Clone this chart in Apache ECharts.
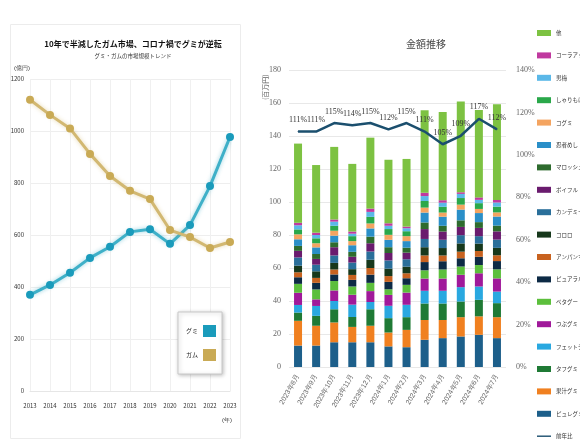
<!DOCTYPE html>
<html>
<head>
<meta charset="utf-8">
<script src="https://cdn.jsdelivr.net/npm/echarts@6/dist/echarts.min.js"></script>
<style>
  html, body { margin: 0; padding: 0; background: #fff; overflow: hidden; }
  #main { width: 580px; height: 441px; }
</style>
</head>
<body>
<div id="main"></div>
<script>
// 左: グミ・ガム市場規模 (億円)
const years = ['2013', '2014', '2015', '2016', '2017', '2018', '2019', '2020', '2021', '2022', '2023'];
const gummy = [370, 408, 455, 512, 555, 612, 622, 566, 638, 788, 977];
const gum = [1120, 1062, 1010, 912, 827, 770, 738, 619, 592, 550, 573];

// 右: 金額推移 (百万円)
const months = ['2023年8月', '2023年9月', '2023年10月', '2023年11月', '2023年12月', '2024年1月',
  '2024年2月', '2024年3月', '2024年4月', '2024年5月', '2024年6月', '2024年7月'];
const puree = [13, 13, 15, 15, 15, 12.5, 12, 16.5, 17.5, 18.5, 19.5, 17.5];
const kajuu = [15, 12, 12, 9.3, 10, 8.4, 10.5, 12, 11, 11.7, 11.2, 12.7];
const tough = [5, 6, 8, 6, 10, 8.7, 7.7, 10, 10, 9.5, 10, 8.5];
const fettuccine = [4.6, 6, 5, 7.5, 4.4, 7.5, 7.5, 7.7, 7.7, 8.7, 8.1, 7];
const tsubu = [7.4, 4, 6.4, 6, 6.6, 6.6, 7.4, 7.4, 7.4, 7.5, 8, 8];
const petagu = [5.4, 6, 5.7, 5, 5, 3.4, 4.7, 5, 5.5, 5, 5, 5.5];
const pureral = [4, 4, 4, 4, 5, 4.5, 4, 5, 5, 5, 5, 5];
const anpanman = [3, 3, 3, 3, 4, 3.5, 3, 4, 3.5, 4, 3.5, 3.5];
const kororo = [4, 4, 4, 3.5, 5, 4.5, 4, 5, 4.5, 5, 4.5, 4.5];
const candemina = [5, 4, 4.5, 4, 5, 5, 4.5, 5, 5, 5, 4.5, 5];
const poifull = [4, 3.5, 5, 3.5, 5, 4.5, 4, 6, 5, 5, 5, 5];
const marosh = [3, 3, 3, 3, 4, 3.5, 3, 4, 3.5, 4, 3.5, 3.5];
const ninja = [4, 4, 4, 4, 5, 4.5, 4, 6, 5.5, 6.5, 5.5, 5.5];
const kogumi = [3, 2.5, 3, 2.5, 3, 3, 3, 3, 2.5, 3, 2.5, 2.5];
const sharimoni = [3, 3, 3, 3, 4, 3.5, 3, 4, 3.5, 4, 3.5, 3.5];
const otokoume = [2.5, 2, 2.5, 1.5, 3, 2, 1.8, 3, 2.5, 2.5, 2, 2.5];
const colaup = [1.5, 1.4, 1.3, 1.3, 2, 1.5, 1, 2, 1.5, 1, 1.5, 1.5];
const others = [48, 41, 44, 41, 43, 38.5, 41, 50, 53.5, 55, 53, 58];
const yoy = [111, 111, 115, 114, 115, 112, 115, 111, 105, 109, 117, 112];

const stackDefs = [
  ['ピュレグミ', puree, '#1d5f8a'],
  ['果汁グミ', kajuu, '#f08020'],
  ['タフグミ', tough, '#1f7a35'],
  ['フェットチーネ', fettuccine, '#29a8e0'],
  ['つぶグミ', tsubu, '#a0199a'],
  ['ペタグー', petagu, '#5cbf3c'],
  ['ピュアラル', pureral, '#0d2a45'],
  ['アンパンマングミ', anpanman, '#c8621f'],
  ['コロロ', kororo, '#17381c'],
  ['カンデミーナ', candemina, '#2a6f9a'],
  ['ポイフル', poifull, '#6a1b6e'],
  ['マロッシュ', marosh, '#2e6b2e'],
  ['忍者めし', ninja, '#2a8fc8'],
  ['コグミ', kogumi, '#f4a460'],
  ['しゃりもに', sharimoni, '#2aa84a'],
  ['男梅', otokoume, '#5bb8e8'],
  ['コーラアップ', colaup, '#c0399f'],
  ['他', others, '#7dc242']
];

const chart = echarts.init(document.getElementById('main'));

const barSeries = stackDefs.map(function (d) {
  return {
    name: d[0],
    type: 'bar',
    stack: 'total',
    xAxisIndex: 1,
    yAxisIndex: 1,
    barWidth: 8,
    itemStyle: { color: d[2] },
    data: d[1]
  };
});

const rightLegend = stackDefs.slice().reverse().map(function (d) {
  return { name: d[0], icon: 'rect' };
});
rightLegend.push({ name: '前年比', icon: 'path://M0,4H20V6H0Z' });

const option = {
  animation: false,
  graphic: [
    {
      type: 'rect',
      left: 8, top: 22,
      shape: { width: 230, height: 414 },
      style: { fill: 'none', stroke: '#ececec', lineWidth: 1 },
      z: -1
    },
    {
      type: 'text',
      x: 262, y: 100,
      rotation: Math.PI / 2,
      style: { text: '(百万円)', fontSize: 7, fill: '#666', fontFamily: 'Noto Sans CJK JP' }
    }
  ],
  title: [
    {
      text: '10年で半減したガム市場、コロナ禍でグミが逆転',
      subtext: 'グミ・ガムの市場規模トレンド',
      left: 128, top: 35, textAlign: 'center',
      itemGap: 5,
      textStyle: { fontSize: 8, fontWeight: 'bold', color: '#111', fontFamily: 'Noto Sans CJK JP' },
      subtextStyle: { fontSize: 5.5, color: '#333', fontFamily: 'Noto Sans CJK JP' }
    },
    {
      text: '金額推移',
      left: 421, top: 34, textAlign: 'center',
      textStyle: { fontSize: 10, fontWeight: 'normal', color: '#444', fontFamily: 'Noto Sans CJK JP' }
    }
  ],
  legend: [
    {
      data: ['グミ', 'ガム'],
      orient: 'vertical',
      left: 178, top: 312,
      align: 'right',
      padding: [13, 6, 13, 8],
      itemWidth: 13, itemHeight: 12, itemGap: 12,
      backgroundColor: '#fff',
      borderColor: '#c8c8c8', borderWidth: 1,
      shadowBlur: 4, shadowColor: 'rgba(0,0,0,0.25)', shadowOffsetX: 1, shadowOffsetY: 1,
      icon: 'rect',
      textStyle: { fontSize: 6, color: '#222', fontFamily: 'Noto Sans CJK JP' }
    },
    {
      data: rightLegend,
      orient: 'vertical',
      left: 537, top: 29,
      height: 420,
      padding: 0,
      itemWidth: 14, itemHeight: 6, itemGap: 14.4,
      textStyle: { fontSize: 5.5, lineHeight: 8, color: '#333', fontFamily: 'Noto Sans CJK JP' }
    }
  ],
  grid: [
    { left: 30, width: 200, top: 79, height: 312 },
    { left: 289, width: 217, top: 70, height: 297 }
  ],
  xAxis: [
    {
      type: 'category', gridIndex: 0, data: years, boundaryGap: false,
      name: '(年)', nameLocation: 'end', nameGap: -8,
      nameTextStyle: { fontSize: 6, color: '#333', verticalAlign: 'top', padding: [26, 0, 0, 0] },
      axisLine: { lineStyle: { color: '#e6e6e6' } },
      axisTick: { show: false },
      axisLabel: { fontSize: 6, color: '#333', margin: 12, interval: 0, fontFamily: 'Noto Sans CJK JP' },
      splitLine: { show: true, lineStyle: { color: '#f0f0f0' } }
    },
    {
      type: 'category', gridIndex: 1, data: months,
      axisLine: { show: false },
      axisTick: { show: false },
      axisLabel: { fontSize: 7, color: '#666', rotate: 60, margin: 8, interval: 0 }
    }
  ],
  yAxis: [
    {
      type: 'value', gridIndex: 0, min: 0, max: 1200, interval: 200,
      name: '(億円)', nameLocation: 'end', nameGap: 8,
      nameTextStyle: { fontSize: 6, color: '#333', align: 'right', padding: [0, 0, 0, 0] },
      axisLine: { show: false }, axisTick: { show: false },
      axisLabel: {
        fontSize: 6, color: '#333', margin: 6, fontFamily: 'Noto Sans CJK JP',
        formatter: function (v) { return String(v); }
      },
      splitLine: { lineStyle: { color: '#eeeeee' } }
    },
    {
      type: 'value', gridIndex: 1, min: 0, max: 180, interval: 20,
      axisLine: { show: false }, axisTick: { show: false },
      axisLabel: { fontSize: 8, color: '#666', margin: 8, fontFamily: 'Liberation Serif' },
      splitLine: { lineStyle: { color: '#e8e8e8' } }
    },
    {
      type: 'value', gridIndex: 1, min: 0, max: 140, interval: 20, position: 'right',
      axisLine: { show: false }, axisTick: { show: false },
      axisLabel: { fontSize: 8, color: '#666', margin: 10, formatter: '{value}%', fontFamily: 'Liberation Serif' },
      splitLine: { show: false }
    }
  ],
  series: [
    {
      name: 'グミ', type: 'line', xAxisIndex: 0, yAxisIndex: 0,
      data: gummy,
      symbol: 'circle', symbolSize: 8,
      itemStyle: { color: '#1a9bbb' },
      lineStyle: { width: 3, color: '#3fb0c8', shadowBlur: 4, shadowColor: 'rgba(26,155,187,0.45)' }
    },
    {
      name: 'ガム', type: 'line', xAxisIndex: 0, yAxisIndex: 0,
      data: gum,
      symbol: 'circle', symbolSize: 8,
      itemStyle: { color: '#c9aa55' },
      lineStyle: { width: 3, color: '#d2b872', shadowBlur: 4, shadowColor: 'rgba(201,170,85,0.45)' }
    }
  ].concat(barSeries).concat([
    {
      name: '前年比', type: 'line', xAxisIndex: 1, yAxisIndex: 2,
      data: yoy,
      symbol: 'circle', symbolSize: 1, showSymbol: true,
      z: 10,
      itemStyle: { color: '#1b4f6e' },
      lineStyle: { width: 2.5, color: '#1b4f6e' },
      label: {
        show: true, position: 'top', distance: 7,
        formatter: '{c}%', fontSize: 8, color: '#333', fontFamily: 'Liberation Serif'
      }
    }
  ])
};

chart.setOption(option);
</script>
</body>
</html>
